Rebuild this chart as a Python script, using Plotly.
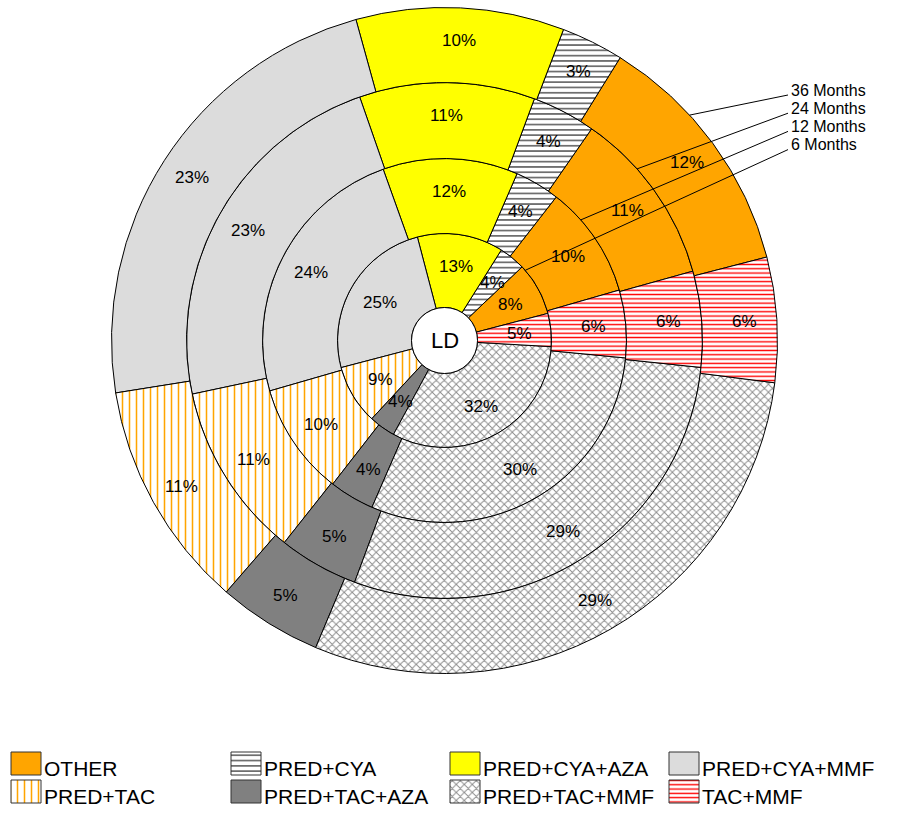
import math
import plotly.graph_objects as go

# ---- data -------------------------------------------------------------
categories = ["OTHER", "PRED+CYA", "PRED+CYA+AZA", "PRED+CYA+MMF",
              "PRED+TAC", "PRED+TAC+AZA", "PRED+TAC+MMF", "TAC+MMF"]
ring_names = ["6 Months", "12 Months", "24 Months", "36 Months"]
pct_6m = [8, 4, 13, 25, 9, 4, 32, 5]
pct_12m = [10, 4, 12, 24, 10, 4, 30, 6]
pct_24m = [11, 4, 11, 23, 11, 5, 29, 6]
pct_36m = [12, 3, 10, 23, 11, 5, 29, 6]
center_text = "LD"

rings = [pct_6m, pct_12m, pct_24m, pct_36m]

# ---- geometry / style -------------------------------------------------
W, H = 909, 813
CX, CY = 444.5, 340.5
RADII = [33, 107, 182, 258, 333]            # hole, then outer edge of each ring
CLOSE_EDGE = [-3.3, -5.5, -6.0, -7.3]       # angle (deg, ccw from east) where TAC+MMF meets PRED+TAC+MMF
LEADER_ANGLE = [41.0, 41.5, 41.7, 42.6]     # where each ring's leader line touches its outer edge
FONT = "Arial, Liberation Sans, sans-serif"

fill = ["#FFA500", "#FFFFFF", "#FFFF00", "#DCDCDC",
        "#FFFFFF", "#808080", "#FFFFFF", "#FFFFFF"]
pat_shape = ["", "-", "", "", "|", "", "x", "-"]
pat_fg = ["#000000", "#4d4d4d", "#000000", "#000000",
          "#FFA500", "#000000", "#8a8a8a", "#FF0000"]
pat_size = [8, 5.3, 8, 8, 7, 8, 5.66, 4.3]
pat_solid = [0.3, 0.27, 0.3, 0.3, 0.22, 0.3, 0.3, 0.32]


def px(x):
    return x / W


def py(y):
    return 1 - y / H


fig = go.Figure()
annotations = []

for k, vals in enumerate(rings):
    r_in, r_out = RADII[k], RADII[k + 1]
    total = float(sum(vals))
    ang = [360.0 * v / total for v in vals]
    # plotly: slice 0 sits clockwise of the rotation line, the rest follow counterclockwise
    rot = (90.0 - CLOSE_EDGE[k]) - ang[-1] - ang[0]

    fig.add_trace(go.Pie(
        labels=categories,
        values=vals,
        sort=False,
        direction="counterclockwise",
        rotation=rot,
        hole=r_in / r_out,
        domain=dict(x=[px(CX - r_out), px(CX + r_out)],
                    y=[py(CY + r_out), py(CY - r_out)]),
        textinfo="none",
        name=ring_names[k],
        showlegend=False,
        marker=dict(
            colors=fill,
            line=dict(color="#000000", width=1),
            pattern=dict(shape=pat_shape, fgcolor=pat_fg, bgcolor=fill,
                         size=pat_size, solidity=pat_solid, fillmode="replace"),
        ),
    ))

    # percentage labels at the middle of each slice (clockwise-from-top angles)
    r_lab = (r_in + r_out) / 2 + 5
    for i, v in enumerate(vals):
        if i == 0:
            mid = rot + ang[0] / 2
        else:
            mid = rot - sum(ang[1:i]) - ang[i] / 2
        t = math.radians(mid)
        x = CX + r_lab * math.sin(t)
        y = CY - r_lab * math.cos(t)
        annotations.append(dict(
            x=px(x), y=py(y), xref="paper", yref="paper",
            text=f"{v}%", showarrow=False, xanchor="center", yanchor="middle",
            font=dict(family=FONT, size=17, color="#000000"),
        ))

# centre disc with the cohort label
fig.add_shape(type="circle", xref="paper", yref="paper",
              x0=px(CX - RADII[0]), x1=px(CX + RADII[0]),
              y0=py(CY + RADII[0]), y1=py(CY - RADII[0]),
              fillcolor="#FFFFFF", line=dict(color="#000000", width=1))
annotations.append(dict(x=px(CX), y=py(CY), xref="paper", yref="paper",
                        text=center_text, showarrow=False,
                        xanchor="center", yanchor="middle",
                        font=dict(family=FONT, size=22, color="#000000")))

# ring captions with leader lines to each ring's outer edge
for k, name in enumerate(ring_names):
    row = len(ring_names) - 1 - k
    ty = 90 + 18.2 * row
    annotations.append(dict(x=px(789), y=py(ty), xref="paper", yref="paper",
                            text=name, showarrow=False,
                            xanchor="left", yanchor="middle",
                            font=dict(family=FONT, size=16, color="#000000")))
    a = math.radians(LEADER_ANGLE[k])
    ex = CX + RADII[k + 1] * math.cos(a)
    ey = CY - RADII[k + 1] * math.sin(a)
    fig.add_shape(type="line", xref="paper", yref="paper",
                  x0=px(788), y0=py(ty + 5), x1=px(ex), y1=py(ey),
                  line=dict(color="#000000", width=1))

# legend: 4 columns x 2 rows of swatches with captions
SW_W, SW_H = 30, 23
COL_X = [11, 231, 450, 669]
ROW_Y = [752, 780]
for i, cat in enumerate(categories):
    col, row = i % 4, i // 4
    x0, y0 = COL_X[col], ROW_Y[row]
    x1, y1 = x0 + SW_W, y0 + SW_H
    kw = dict(fillcolor=fill[i])
    if pat_shape[i]:
        kw = dict(fillpattern=dict(shape=pat_shape[i], fgcolor=pat_fg[i],
                                   bgcolor=fill[i], size=pat_size[i],
                                   solidity=pat_solid[i], fillmode="replace"))
    fig.add_trace(go.Scatter(
        x=[x0, x1, x1, x0, x0], y=[y0, y0, y1, y1, y0],
        mode="lines", fill="toself", line=dict(color="#333333", width=1),
        showlegend=False, hoverinfo="skip", **kw,
    ))
    annotations.append(dict(x=px(x1 + 1), y=py(y0 + 16), xref="paper", yref="paper",
                            text=cat, showarrow=False,
                            xanchor="left", yanchor="middle",
                            font=dict(family=FONT, size=21, color="#000000")))

fig.update_layout(
    width=W, height=H,
    margin=dict(l=0, r=0, t=0, b=0),
    paper_bgcolor="#FFFFFF", plot_bgcolor="rgba(0,0,0,0)",
    xaxis=dict(range=[0, W], visible=False, fixedrange=True, domain=[0, 1]),
    yaxis=dict(range=[H, 0], visible=False, fixedrange=True, domain=[0, 1]),
    annotations=annotations,
    showlegend=False,
)

fig.write_html("out.html")
